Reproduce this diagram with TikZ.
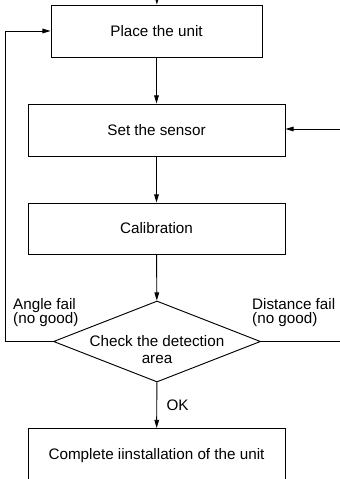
\documentclass[tikz,border=0pt]{standalone}
\usepackage{fontspec}
\setmainfont{Liberation Sans}
\usetikzlibrary{shapes.geometric,arrows.meta}

\begin{document}
\begin{tikzpicture}[x=0.03cm, y=-0.03cm,
        stepbox/.style={draw, thick, rectangle, minimum height=1.56cm, inner sep=0pt, font=\fontsize{13pt}{15pt}\selectfont},
        decision/.style={draw, thick, diamond, minimum width=6.21cm, minimum height=2.43cm, inner sep=0pt},
        flow/.style={thick, -{Triangle[length=7pt, width=4pt]}},
        note/.style={font=\fontsize{13pt}{12.5pt}\selectfont, align=left, inner sep=0pt}]
        \useasboundingbox (0,0) rectangle (340,479);

        % Define the steps of the installation
        \node[stepbox, minimum width=6.33cm] (place) at (156.5, 31) {Place the unit};
        \node[stepbox, minimum width=7.71cm] (set-sensor) at (156.5, 130) {Set the sensor};
        \node[stepbox, minimum width=7.71cm, minimum height=1.53cm] (calibration) at (156.5, 228.5) {Calibration};

        % Define the check and its text
        \node[decision] (check) at (157, 341.5) {};
        \node[align=center, inner sep=0pt, font=\fontsize{13pt}{14.5pt}\selectfont] (check-text) at (157, 350) {Check the detection\\area};

        % Last step, its box runs below the picture
        \node[stepbox, anchor=north, minimum width=7.71cm, text height=0.93cm, text depth=1.8cm] (complete) at (156.5, 428) {Complete iinstallation of the unit};

        % Free ends outside the picture
        \coordinate (top-in) at (157, -10);
        \coordinate (right-in) at (350, 129);
        \coordinate (right-out) at (350, 341.5);
        \coordinate (left-corner) at (5, 341.5);

        % Main flow
        \draw[flow] (top-in) -- (place);
        \draw[flow] (place) -- (set-sensor);
        \draw[flow] (set-sensor) -- (calibration);
        \draw[flow] (calibration) -- (check);
        \draw[flow] (check) -- (complete) node[midway, right=8pt, inner sep=0pt, font=\fontsize{13pt}{15pt}\selectfont] {OK};

        % Angle fail goes back to the unit
        \draw[flow] (check.west) -- (left-corner) |- (place.west);
        \node[note, anchor=north west] (angle) at (13, 298) {Angle fail\\(no good)};

        % Distance fail goes back to the sensor
        \draw[thick] (check.east) -- (right-out);
        \draw[flow] (right-in) -- (set-sensor.east |- right-in);
        \node[note, anchor=north west] (distance) at (252, 298) {Distance fail\\(no good)};
    \end{tikzpicture}
\end{document}
